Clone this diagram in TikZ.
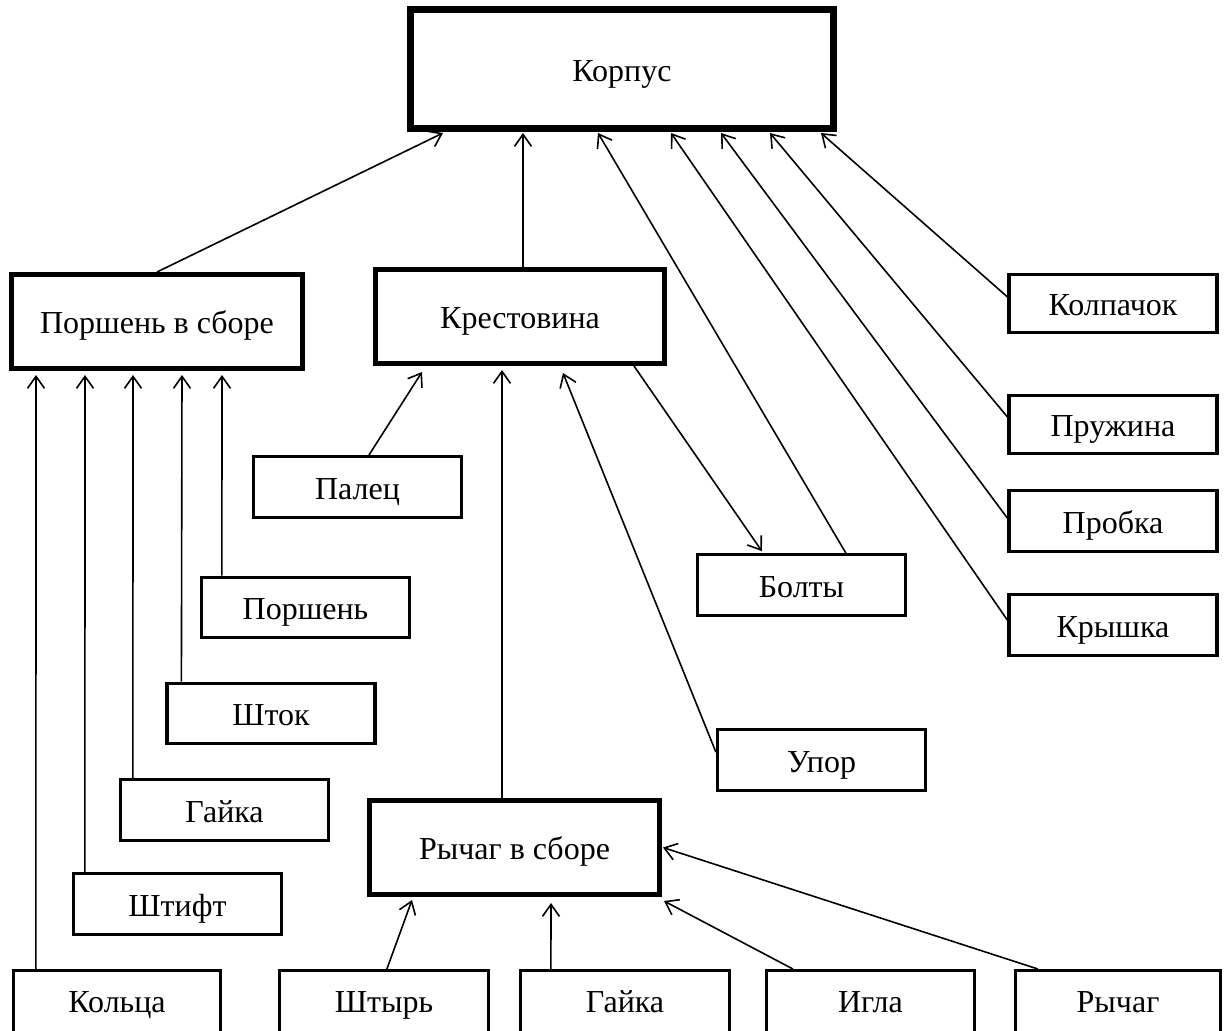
\documentclass[tikz,border=0pt]{standalone}
\usepackage{fontspec}
\setmainfont{Liberation Serif}
\usetikzlibrary{arrows.meta,calc}
\tikzset{
  basebox/.style={draw, rectangle, inner sep=0pt, font=\fontsize{32}{38}\selectfont,
                  text height=29pt, text depth=5pt},
  smallbox/.style={basebox, line width=3.2pt, minimum width=208pt, minimum height=60.5pt},
  lowbox/.style={smallbox, minimum height=70pt, text height=24pt, text depth=10pt},
  midbox/.style={basebox, line width=5pt, minimum width=290pt, minimum height=94pt},
  bigbox/.style={basebox, line width=7pt, minimum width=423pt, minimum height=119pt},
  conn/.style={line width=1.6pt, -{Straight Barb[length=12pt,width=17pt]}},
}
\begin{document}
\begin{tikzpicture}[x=1pt, y=-1pt]
\fill[white] (0,0) rectangle (1224,1031);
\useasboundingbox (0,0) rectangle (1224,1031);

% boxes
\node[bigbox] (korpus) at (622,69) {Корпус};
\node[midbox, minimum width=291pt] (porshsb) at (157,321.5) {Поршень в сборе};
\node[midbox, minimum width=289pt] (krest) at (520,316.5) {Крестовина};
\node[midbox] (rychsb) at (514.5,847.5) {Рычаг в сборе};

\node[smallbox] (palets) at (357.5,487) {Палец};
\node[smallbox] (porshen) at (305.5,607.5) {Поршень};
\node[smallbox] (shtok) at (271,713.5) {Шток};
\node[smallbox] (gayka1) at (224.5,810) {Гайка};
\node[smallbox] (shtift) at (177.5,904) {Штифт};
\node[smallbox] (bolty) at (801.5,585) {Болты};
\node[smallbox] (upor) at (821.5,760) {Упор};

\node[smallbox, minimum height=58pt] (kolp) at (1113,303.5) {Колпачок};
\node[smallbox, minimum height=58pt] (pruzh) at (1113,424.5) {Пружина};
\node[smallbox] (probka) at (1113,521) {Пробка};
\node[smallbox] (kryshka) at (1113,625) {Крышка};

\node[lowbox, minimum width=207pt] (kolca) at (117,1005.6) {Кольца};
\node[lowbox, minimum width=209pt] (shtyr) at (384,1005.6) {Штырь};
\node[lowbox, minimum width=209pt] (gayka2) at (625,1005.6) {Гайка};
\node[lowbox] (igla) at (870.5,1005.6) {Игла};
\node[lowbox, minimum width=205pt] (rychag) at (1118,1005.6) {Рычаг};

% connectors to Корпус
\draw[conn] (porshsb.north) -- ($(korpus.south west)+(36,1)$);
\draw[conn] ($(krest.north west)+(150,0)$) -- ($(korpus.south west)+(116,1)$);
\draw[conn] ($(bolty.north west)+(150,0)$) -- ($(korpus.south west)+(191,1)$);
\draw[conn] ($(kryshka.north west)+(0,27)$) -- ($(korpus.south west)+(264,1)$);
\draw[conn] ($(probka.north west)+(0,29)$) -- ($(korpus.south west)+(314,1)$);
\draw[conn] ($(pruzh.north west)+(0,23)$) -- ($(korpus.south west)+(363,1)$);
\draw[conn] ($(kolp.north west)+(0,24)$) -- ($(korpus.south west)+(414,1)$);

% connectors to Крестовина
\draw[conn] ($(palets.north west)+(117,0)$) -- ($(krest.south west)+(49,6)$);
\draw[conn] ($(rychsb.north west)+(135,0)$) -- ($(krest.south west)+(129,4)$);
\draw[conn] ($(upor.north west)+(0,24)$) -- ($(krest.south west)+(190,7)$);
\draw[conn] ($(krest.south west)+(261,0)$) -- ($(bolty.north west)+(66,-2)$);

% connectors to Поршень в сборе
\draw[conn] ($(kolca.north west)+(24,0)$) -- ($(porshsb.south west)+(27,4)$);
\draw[conn] ($(shtift.north west)+(13,0)$) -- ($(porshsb.south west)+(76,4)$);
\draw[conn] ($(gayka1.north west)+(14,0)$) -- ($(porshsb.south west)+(124,4)$);
\draw[conn] ($(shtok.north west)+(16,0)$) -- ($(porshsb.south west)+(173,4)$);
\draw[conn] ($(porshen.north west)+(22,0)$) -- ($(porshsb.south west)+(213,4)$);

% connectors to Рычаг в сборе
\draw[conn] ($(shtyr.north west)+(109,0)$) -- ($(rychsb.south west)+(45,3)$);
\draw[conn] ($(gayka2.north west)+(32,0)$) -- ($(rychsb.south west)+(184,6)$);
\draw[conn] ($(igla.north west)+(28,0)$) -- ($(rychsb.south east)+(2,4)$);
\draw[conn] ($(rychag.north west)+(24,0)$) -- ($(rychsb.east)+(1,0)$);
\end{tikzpicture}
\end{document}
